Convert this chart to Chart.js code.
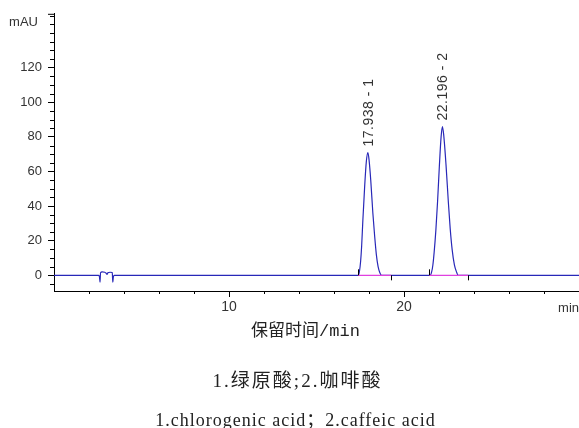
<!DOCTYPE html>
<html>
<head>
<meta charset="utf-8">
<script src="https://cdn.jsdelivr.net/npm/chart.js@4"></script>
<style>
  body { margin: 0; background: #fff; }
  #wrap { position: relative; width: 579px; height: 428px; }
  .cap { position: absolute; left: 0; width: 579px; text-align: center; color: #222; white-space: nowrap; }
</style>
</head>
<body>
<div id="wrap">
  <canvas id="chrom" width="579" height="428"></canvas>
  <div class="cap" style="top:316px;left:16px;font:17px 'Liberation Mono','Noto Sans CJK SC',monospace;">保留时间/min</div>
  <div class="cap" style="top:365px;left:8px;font:19px 'Liberation Serif','Noto Sans CJK SC',serif;letter-spacing:2px;">1.绿原酸;2.咖啡酸</div>
  <div class="cap" style="top:405px;left:6px;font:18px 'Liberation Serif','Noto Sans CJK SC',serif;letter-spacing:1px;">1.chlorogenic acid；2.caffeic acid</div>
</div>
<script>
// chromatogram trace (retention time in min, signal in mAU)
const times  = [0, 2.55, 2.6, 2.63, 2.66, 2.75, 2.9, 2.98, 3.03, 3.08, 3.2, 3.33, 3.36, 3.39, 3.45,
                17.38, 17.45, 17.52, 17.58, 17.65, 17.75, 17.85, 17.938, 18.0, 18.1, 18.22, 18.32, 18.42, 18.52, 18.62, 18.72,
                21.49, 21.58, 21.65, 21.72, 21.82, 21.92, 22.02, 22.12, 22.196, 22.27, 22.4, 22.53, 22.64, 22.75, 22.88, 23.0, 23.1,
                30];
const signal = [0, 0, -1, -4, 1.5, 2, 1.8, 1.2, 0.6, 1.5, 1.8, 1.6, -4, -1, 0,
                0, 2, 8, 17, 32, 51, 66, 71, 67, 55, 36, 23, 12, 5, 1.5, 0,
                0, 2, 6, 13, 26, 43, 63, 80, 86, 81, 64, 43, 27, 15, 6, 2, 0,
                0];

// integration baselines and peak labels
const baseStart  = [17.37, 21.43];
const baseEnd    = [19.26, 23.67];
const peakTimes  = [17.938, 22.196];
const peakHeights = [71, 86];
const peakNames  = ['17.938 - 1', '22.196 - 2'];

// tick labels
const yLabels = [0, 20, 40, 60, 80, 100, 120];
const xLabels = [10, 20];

const traceColor = '#2828b8';

const datasets = [{
  data: times.map((t, i) => ({ x: t, y: signal[i] })),
  borderColor: traceColor,
  borderWidth: 1.2,
  pointRadius: 0,
  cubicInterpolationMode: 'monotone',
  order: 2
}];
baseStart.forEach((s, i) => {
  datasets.push({
    data: [{ x: s, y: 0 }, { x: baseEnd[i], y: 0 }],
    borderColor: '#e040e0',
    borderWidth: 1.2,
    pointRadius: 0,
    order: 1
  });
});

// minor ticks, unit labels, baseline markers and peak annotations
const extras = {
  id: 'extras',
  afterDraw(chart) {
    const { ctx, chartArea: a, scales: { x, y } } = chart;
    ctx.save();
    ctx.strokeStyle = '#000';
    ctx.lineWidth = 1;
    ctx.beginPath();
    for (let v = -5; v <= 150; v += 5) {
      if (yLabels.includes(v)) continue;
      const py = Math.round(y.getPixelForValue(v)) + 0.5;
      ctx.moveTo(a.left - 4, py); ctx.lineTo(a.left, py);
    }
    ctx.moveTo(a.left - 6, a.top + 0.5); ctx.lineTo(a.left, a.top + 0.5);
    for (let v = 2; v < 30; v += 2) {
      if (xLabels.includes(v)) continue;
      const px = Math.round(x.getPixelForValue(v)) + 0.5;
      ctx.moveTo(px, a.bottom); ctx.lineTo(px, a.bottom + 3);
    }
    // integration start / end marks
    const y0 = y.getPixelForValue(0);
    baseStart.forEach((s, i) => {
      const p1 = Math.round(x.getPixelForValue(s)) + 0.5;
      const p2 = Math.round(x.getPixelForValue(baseEnd[i])) + 0.5;
      ctx.moveTo(p1, y0 - 6); ctx.lineTo(p1, y0);
      ctx.moveTo(p2, y0); ctx.lineTo(p2, y0 + 5);
    });
    ctx.stroke();

    ctx.fillStyle = '#333';
    ctx.font = '13px "Liberation Sans", Arial, sans-serif';
    ctx.textBaseline = 'middle';
    ctx.textAlign = 'right';
    ctx.fillText('mAU', 38, a.top + 9);
    ctx.textBaseline = 'top';
    ctx.fillText('min', a.right, a.bottom + 11);

    ctx.font = '14px "Liberation Sans", Arial, sans-serif';
    ctx.letterSpacing = '0.5px';
    peakTimes.forEach((t, i) => {
      const px = x.getPixelForValue(t);
      const py = y.getPixelForValue(peakHeights[i]);
      ctx.save();
      ctx.translate(px + 1, py - 6);
      ctx.rotate(-Math.PI / 2);
      ctx.textAlign = 'left';
      ctx.textBaseline = 'middle';
      ctx.fillText(peakNames[i], 0, 0);
      ctx.restore();
    });
    ctx.restore();
  }
};

new Chart(document.getElementById('chrom'), {
  type: 'line',
  data: { datasets },
  options: {
    responsive: false,
    animation: false,
    layout: { padding: { top: 8, right: 0, bottom: 97, left: 0 } },
    plugins: { legend: { display: false }, tooltip: { enabled: false } },
    scales: {
      x: {
        type: 'linear', min: 0, max: 30,
        afterFit: s => { s.height = 40; },
        afterBuildTicks: s => { s.ticks = xLabels.map(v => ({ value: v })); },
        grid: { drawOnChartArea: false, tickLength: 6, color: '#000' },
        border: { color: '#000' },
        ticks: { color: '#333', font: { family: 'Liberation Sans', size: 14 }, padding: 2, maxRotation: 0 }
      },
      y: {
        type: 'linear', min: -9.05, max: 151.15,
        afterFit: s => { s.width = 54; },
        afterBuildTicks: s => { s.ticks = yLabels.map(v => ({ value: v })); },
        grid: { drawOnChartArea: false, tickLength: 6, color: '#000' },
        border: { color: '#000' },
        ticks: { color: '#333', font: { family: 'Liberation Sans', size: 13 }, padding: 6 }
      }
    }
  },
  plugins: [extras]
});
</script>
</body>
</html>
